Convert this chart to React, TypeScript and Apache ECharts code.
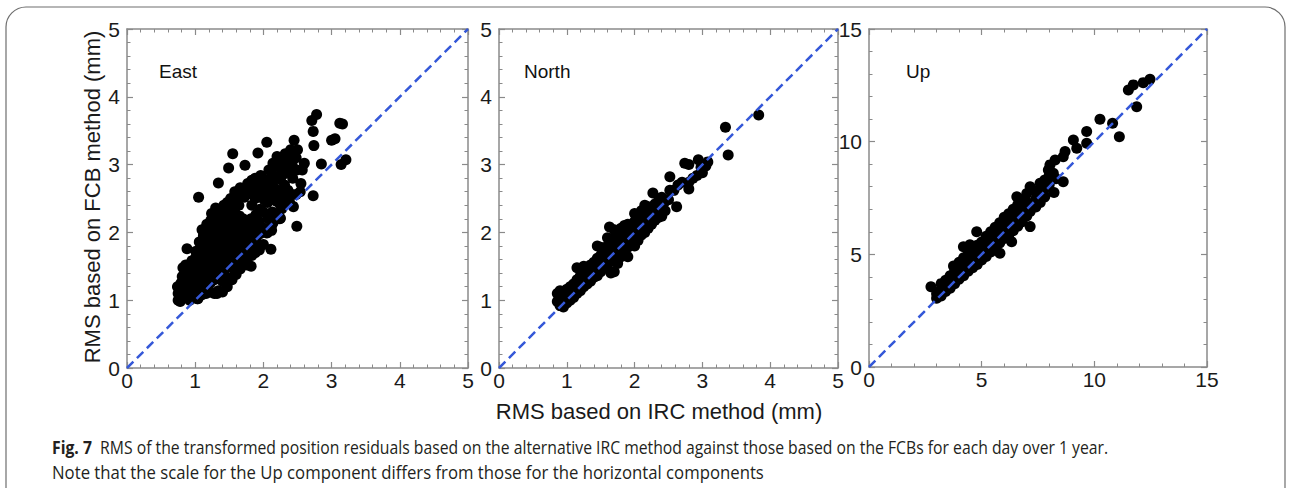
import React, { useEffect, useRef } from "react";
import * as echarts from "echarts";

// ---------- data ----------
const panelNames = ["East", "North", "Up"];
const panelMax = [5, 5, 15];
const panelInterval = [1, 1, 5];
const yTitle = "RMS based on FCB method (mm)";
const xTitle = "RMS based on IRC method (mm)";
const captionBold = "Fig. 7";
const captionLine1 =
  "RMS of the transformed position residuals based on the alternative IRC method against those based on the FCBs for each day over 1 year.";
const captionLine2 =
  "Note that the scale for the Up component differs from those for the horizontal components";

const eastPoints: number[][] = [
  [0.75, 1.0], [0.75, 1.1], [0.74, 1.2],
  [0.8, 1.02], [0.8, 1.12], [0.79, 1.25], [0.81, 1.35], [0.82, 1.48],
  [0.86, 1.05], [0.86, 1.15], [0.85, 1.28], [0.87, 1.4], [0.86, 1.52], [0.88, 1.76],
  [0.92, 1.0], [0.92, 1.1], [0.93, 1.22], [0.92, 1.33], [0.93, 1.45], [0.95, 1.58],
  [0.98, 1.04], [0.98, 1.14], [0.99, 1.26], [0.98, 1.38], [0.99, 1.5], [1.0, 1.62], [1.01, 1.72],
  [1.04, 1.02], [1.04, 1.12], [1.05, 1.24], [1.04, 1.36], [1.05, 1.48], [1.04, 1.6], [1.05, 1.74], [1.06, 1.86], [1.05, 2.52],
  [1.1, 1.08], [1.1, 1.18], [1.11, 1.3], [1.1, 1.42], [1.11, 1.55], [1.1, 1.68], [1.11, 1.8], [1.12, 1.95], [1.1, 2.04],
  [1.16, 1.1], [1.16, 1.22], [1.17, 1.35], [1.16, 1.48], [1.17, 1.6], [1.16, 1.72], [1.17, 1.85], [1.16, 1.98], [1.17, 2.12],
  [1.22, 1.12], [1.22, 1.25], [1.23, 1.38], [1.22, 1.52], [1.23, 1.66], [1.22, 1.78], [1.23, 1.92], [1.22, 2.05], [1.23, 2.18], [1.24, 2.28],
  [1.28, 1.1], [1.28, 1.3], [1.29, 1.44], [1.28, 1.58], [1.29, 1.7], [1.28, 1.84], [1.29, 1.98], [1.28, 2.1], [1.29, 2.24], [1.3, 2.36],
  [1.34, 1.14], [1.34, 1.36], [1.35, 1.5], [1.34, 1.64], [1.35, 1.76], [1.34, 1.9], [1.35, 2.02], [1.34, 2.16], [1.35, 2.3], [1.34, 2.73],
  [1.4, 1.12], [1.4, 1.28], [1.41, 1.42], [1.4, 1.56], [1.41, 1.7], [1.4, 1.84], [1.41, 1.96], [1.4, 2.1], [1.41, 2.22], [1.42, 2.4],
  [1.46, 1.22], [1.47, 1.34], [1.46, 1.48], [1.47, 1.62], [1.46, 1.76], [1.47, 1.9], [1.46, 2.04], [1.47, 2.18], [1.46, 2.3], [1.47, 2.44],
  [1.52, 1.32], [1.53, 1.52], [1.52, 1.68], [1.53, 1.82], [1.52, 1.96], [1.53, 2.08], [1.52, 2.22], [1.53, 2.36], [1.52, 2.5], [1.49, 2.95],
  [1.58, 1.44], [1.59, 1.6], [1.58, 1.74], [1.59, 1.88], [1.58, 2.02], [1.59, 2.16], [1.58, 2.3], [1.59, 2.44], [1.58, 2.6], [1.55, 3.16],
  [1.64, 1.52], [1.65, 1.66], [1.64, 1.8], [1.65, 1.94], [1.64, 2.1], [1.65, 2.24], [1.64, 2.4], [1.65, 2.56], [1.66, 2.66],
  [1.7, 1.58], [1.71, 1.72], [1.7, 1.88], [1.71, 2.04], [1.7, 2.2], [1.72, 2.52], [1.71, 2.64], [1.73, 2.99],
  [1.76, 1.62], [1.77, 1.78], [1.76, 1.96], [1.77, 2.12], [1.78, 2.6], [1.77, 2.72],
  [1.82, 1.5], [1.83, 1.66], [1.82, 1.84], [1.83, 2.0], [1.82, 2.2], [1.83, 2.4], [1.84, 2.56], [1.83, 2.77],
  [1.88, 1.7], [1.89, 1.9], [1.88, 2.08], [1.89, 2.26], [1.88, 2.5], [1.89, 2.66], [1.88, 2.8],
  [1.94, 1.74], [1.95, 1.98], [1.94, 2.16], [1.95, 2.34], [1.94, 2.56], [1.95, 2.72], [1.96, 2.84], [1.92, 3.17],
  [2.0, 1.82], [2.01, 2.06], [2.0, 2.3], [2.01, 2.48], [2.0, 2.64], [2.01, 2.78],
  [2.06, 2.0], [2.07, 2.2], [2.06, 2.44], [2.07, 2.6], [2.06, 2.76], [2.08, 2.92], [2.05, 3.33],
  [2.12, 2.1], [2.13, 2.3], [2.12, 2.52], [2.13, 2.7], [2.12, 2.88], [2.14, 3.02], [2.11, 1.75],
  [2.18, 2.24], [2.19, 2.46], [2.18, 2.64], [2.19, 2.82], [2.18, 3.0], [2.2, 3.12],
  [2.24, 2.2], [2.25, 2.4], [2.24, 2.6], [2.25, 2.78], [2.24, 2.96], [2.26, 3.1],
  [2.3, 2.5], [2.31, 2.7], [2.3, 2.86], [2.31, 3.04], [2.32, 3.16],
  [2.36, 2.62], [2.37, 2.9], [2.38, 3.12], [2.39, 2.43],
  [2.42, 2.56], [2.43, 2.8], [2.42, 3.0], [2.4, 3.22], [2.45, 3.36], [2.44, 2.38],
  [2.48, 2.56], [2.49, 2.92], [2.48, 3.1], [2.5, 3.22], [2.49, 2.09],
  [2.54, 2.6], [2.55, 2.72], [2.57, 2.92], [2.6, 3.02],
  [2.71, 3.65], [2.78, 3.74], [2.73, 3.49], [2.74, 3.28], [2.73, 2.54], [2.85, 3.01],
  [3.0, 3.36], [3.05, 3.38], [3.12, 3.61], [3.16, 3.6], [3.14, 3.0], [3.21, 3.07],
  [1.47, 1.2], [1.54, 1.3], [1.6, 1.38], [1.66, 1.46], [1.76, 1.52], [1.91, 1.74],
  [1.96, 1.81], [2.12, 2.03], [2.14, 2.14], [2.25, 2.21], [2.27, 2.35], [2.05, 1.99],
  [1.32, 1.1], [1.17, 1.12], [1.03, 1.02], [0.78, 0.98],
];

const northPoints: number[][] = [
  [0.86, 0.98], [0.86, 1.1],
  [0.9, 0.92], [0.9, 1.04], [0.9, 1.14],
  [0.95, 0.9], [0.95, 1.0], [0.95, 1.08],
  [1.0, 0.96], [1.0, 1.06], [1.0, 1.16],
  [1.05, 1.0], [1.05, 1.1], [1.05, 1.2],
  [1.1, 1.04], [1.1, 1.14], [1.1, 1.24],
  [1.15, 1.1], [1.15, 1.2], [1.15, 1.3], [1.15, 1.48],
  [1.2, 1.14], [1.2, 1.24], [1.2, 1.36],
  [1.25, 1.2], [1.25, 1.3], [1.25, 1.4], [1.25, 1.5],
  [1.3, 1.24], [1.3, 1.34], [1.3, 1.46],
  [1.35, 1.28], [1.35, 1.4], [1.35, 1.52],
  [1.4, 1.34], [1.4, 1.46], [1.4, 1.56],
  [1.45, 1.36], [1.45, 1.5], [1.45, 1.62], [1.45, 1.8],
  [1.5, 1.42], [1.5, 1.54], [1.5, 1.66], [1.5, 1.78],
  [1.55, 1.48], [1.55, 1.6], [1.55, 1.72],
  [1.6, 1.52], [1.6, 1.66], [1.6, 1.8], [1.6, 1.92],
  [1.65, 1.4], [1.65, 1.58], [1.65, 1.72], [1.65, 1.86], [1.63, 2.08],
  [1.7, 1.42], [1.7, 1.64], [1.7, 1.78], [1.7, 1.92], [1.7, 2.04],
  [1.75, 1.54], [1.75, 1.7], [1.75, 1.84], [1.75, 1.98],
  [1.8, 1.64], [1.8, 1.76], [1.8, 1.9], [1.8, 2.06],
  [1.85, 1.7], [1.85, 1.82], [1.85, 1.96], [1.85, 2.1],
  [1.9, 1.64], [1.9, 1.78], [1.9, 1.9], [1.9, 2.02], [1.9, 2.12],
  [1.95, 1.84], [1.95, 1.96], [1.95, 2.08],
  [2.0, 1.8], [2.0, 1.92], [2.0, 2.04], [2.0, 2.16], [2.0, 2.28],
  [2.05, 1.88], [2.05, 2.0], [2.05, 2.12], [2.05, 2.24],
  [2.1, 1.96], [2.1, 2.08], [2.1, 2.2], [2.1, 2.32],
  [2.15, 2.0], [2.15, 2.14], [2.15, 2.26], [2.15, 2.4],
  [2.2, 2.06], [2.2, 2.18], [2.2, 2.3], [2.2, 2.38],
  [2.25, 2.12], [2.25, 2.24], [2.25, 2.36], [2.27, 2.58],
  [2.3, 2.18], [2.3, 2.3], [2.3, 2.42],
  [2.35, 2.22], [2.35, 2.34], [2.35, 2.46],
  [2.4, 2.24], [2.4, 2.4], [2.4, 2.52],
  [2.45, 2.32], [2.45, 2.46],
  [2.5, 2.48], [2.52, 2.62],
  [2.52, 2.82], [2.58, 2.62],
  [2.62, 2.38], [2.64, 2.7],
  [2.7, 2.74], [2.74, 3.02],
  [2.8, 2.64], [2.8, 2.74], [2.8, 3.0],
  [2.86, 2.8], [2.92, 2.84], [2.94, 3.07],
  [2.98, 2.96], [3.0, 2.88], [3.05, 2.98], [3.08, 3.04],
  [3.34, 3.55], [3.38, 3.14], [3.83, 3.73],
];

const upPoints: number[][] = [
  [2.75, 3.56],
  [3.0, 3.05], [3.0, 3.25],
  [3.2, 3.15], [3.2, 3.45], [3.2, 3.7],
  [3.4, 3.35], [3.4, 3.6], [3.4, 3.85],
  [3.6, 3.5], [3.6, 3.78], [3.6, 4.05],
  [3.8, 3.7], [3.8, 3.95], [3.8, 4.25], [3.75, 4.48],
  [4.0, 3.9], [4.0, 4.15], [4.0, 4.4], [4.0, 4.65],
  [4.2, 4.05], [4.2, 4.3], [4.2, 4.55], [4.2, 4.85], [4.19, 5.34],
  [4.4, 4.25], [4.4, 4.5], [4.4, 4.75], [4.4, 5.0],
  [4.6, 4.4], [4.6, 4.7], [4.6, 4.95], [4.6, 5.2], [4.48, 5.42],
  [4.8, 4.55], [4.8, 4.85], [4.8, 5.1], [4.8, 5.4], [4.78, 6.0],
  [5.0, 4.75], [5.0, 5.05], [5.0, 5.3], [5.0, 5.55],
  [5.2, 4.9], [5.2, 5.25], [5.2, 5.5], [5.2, 5.8],
  [5.4, 5.1], [5.4, 5.45], [5.4, 5.7], [5.4, 6.0],
  [5.6, 5.3], [5.6, 5.6], [5.6, 5.9], [5.6, 6.2],
  [5.81, 5.05], [5.8, 5.5], [5.8, 5.8], [5.8, 6.1], [5.8, 6.4],
  [6.0, 5.7], [6.0, 6.0], [6.0, 6.3], [6.0, 6.65],
  [6.2, 5.85], [6.2, 6.2], [6.2, 6.5], [6.2, 6.8],
  [6.33, 5.56], [6.4, 6.05], [6.4, 6.4], [6.4, 6.7], [6.4, 7.0],
  [6.6, 6.25], [6.6, 6.6], [6.6, 6.9], [6.6, 7.2], [6.56, 7.56],
  [6.8, 6.45], [6.8, 6.8], [6.8, 7.1], [6.8, 7.45],
  [7.0, 6.7], [7.0, 7.0], [7.0, 7.3], [7.0, 7.7],
  [7.15, 6.23], [7.15, 6.9], [7.15, 7.25], [7.15, 8.0],
  [7.4, 7.1], [7.4, 7.45], [7.4, 7.8],
  [7.59, 8.15], [7.6, 7.3], [7.6, 7.65],
  [7.8, 7.55], [7.8, 7.9], [7.8, 8.3],
  [7.96, 8.74], [8.03, 8.97], [8.0, 8.1], [8.0, 8.5],
  [8.21, 7.74], [8.18, 8.6], [8.26, 9.19], [8.3, 8.35],
  [8.62, 8.22], [8.62, 9.33], [8.7, 9.56],
  [9.07, 10.07], [9.22, 9.71], [9.66, 10.45], [9.66, 9.93],
  [10.25, 10.99], [10.81, 10.82], [11.11, 10.22],
  [11.51, 12.29], [11.73, 12.52], [11.88, 11.55], [12.17, 12.62], [12.47, 12.77],
];

const panelData = [eastPoints, northPoints, upPoints];

// ---------- layout ----------
const grids = [
  { left: 127, top: 29, width: 341, height: 339 },
  { left: 499, top: 29, width: 339, height: 339 },
  { left: 869, top: 29, width: 338, height: 338 },
];
const labelPos = [
  { x: 159, y: 71 },
  { x: 524, y: 71 },
  { x: 906, y: 71 },
];

const FRAME = "#8a8a8a";
const FONT = "'Liberation Sans', Arial, sans-serif";
const CAP_FONT = "'Open Sans', sans-serif";

function makeAxis(i: number, position: string, showLabel: boolean, isX: boolean) {
  return {
    type: "value",
    gridIndex: i,
    position,
    min: 0,
    max: panelMax[i],
    interval: panelInterval[i],
    axisLine: { show: true, onZero: false, lineStyle: { color: FRAME, width: 1.5 } },
    axisTick: { show: true, inside: true, length: 6, lineStyle: { color: FRAME, width: 1.2 } },
    minorTick: { show: true, splitNumber: 5, length: 3.5, lineStyle: { color: FRAME, width: 1 } },
    splitLine: { show: false },
    minorSplitLine: { show: false },
    axisLabel: {
      show: showLabel,
      fontSize: 21,
      color: "#1a1a1a",
      fontFamily: FONT,
      margin: isX ? 2 : 7,
    },
  };
}

export default function App() {
  const ref = useRef<HTMLDivElement>(null);

  useEffect(() => {
    document.body.style.margin = "0";
    if (!ref.current) return;
    const chart = echarts.init(ref.current, undefined, { renderer: "svg" });

    const xAxis: any[] = [];
    const yAxis: any[] = [];
    const series: any[] = [];
    for (let i = 0; i < 3; i++) {
      xAxis.push(makeAxis(i, "bottom", true, true));
      xAxis.push(makeAxis(i, "top", false, true));
      yAxis.push(makeAxis(i, "left", true, false));
      yAxis.push(makeAxis(i, "right", false, false));
      series.push({
        type: "scatter",
        xAxisIndex: i * 2,
        yAxisIndex: i * 2,
        data: panelData[i],
        symbol: "circle",
        symbolSize: 11,
        itemStyle: { color: "#000000", opacity: 1 },
        z: 2,
      });
      series.push({
        type: "line",
        xAxisIndex: i * 2,
        yAxisIndex: i * 2,
        data: [
          [0, 0],
          [panelMax[i], panelMax[i]],
        ],
        symbol: "none",
        lineStyle: { color: "#3558d8", width: 2.5, type: [9, 5] },
        z: 3,
      });
    }

    const graphic: any[] = [
      {
        type: "rect",
        shape: { x: 6, y: 7, width: 1279, height: 540, r: 20 },
        style: { fill: "none", stroke: "#6e6e6e", lineWidth: 1.2 },
        silent: true,
      },
      {
        type: "text",
        x: 92,
        y: 197,
        rotation: Math.PI / 2,
        style: {
          text: yTitle,
          fontSize: 22,
          fontFamily: FONT,
          fill: "#1a1a1a",
          align: "center",
          verticalAlign: "middle",
        },
      },
      {
        type: "text",
        x: 659,
        y: 411,
        style: {
          text: xTitle,
          fontSize: 22,
          fontFamily: FONT,
          fill: "#1a1a1a",
          align: "center",
          verticalAlign: "middle",
        },
      },
      {
        type: "text",
        x: 52,
        y: 447,
        scaleX: 0.875,
        style: {
          text: "{b|" + captionBold + "}  " + captionLine1,
          fontSize: 18,
          fontFamily: CAP_FONT,
          fill: "#231f20",
          verticalAlign: "middle",
          rich: {
            b: { fontWeight: "bold", fontSize: 18, fontFamily: CAP_FONT, fill: "#231f20" },
          },
        },
      },
      {
        type: "text",
        x: 52,
        y: 472,
        scaleX: 0.93,
        style: {
          text: captionLine2,
          fontSize: 18,
          fontFamily: CAP_FONT,
          fill: "#231f20",
          verticalAlign: "middle",
        },
      },
    ];
    for (let i = 0; i < 3; i++) {
      graphic.push({
        type: "text",
        x: labelPos[i].x,
        y: labelPos[i].y,
        style: {
          text: panelNames[i],
          fontSize: 19,
          fontFamily: FONT,
          fill: "#111111",
          verticalAlign: "middle",
        },
      });
    }

    chart.setOption({
      animation: false,
      backgroundColor: "#ffffff",
      grid: grids.map((g) => ({ ...g, containLabel: false })),
      xAxis,
      yAxis,
      series,
      graphic,
    });

    return () => chart.dispose();
  }, []);

  return (
    <div
      ref={ref}
      style={{ position: "absolute", left: 0, top: 0, width: 1290, height: 488 }}
    />
  );
}
